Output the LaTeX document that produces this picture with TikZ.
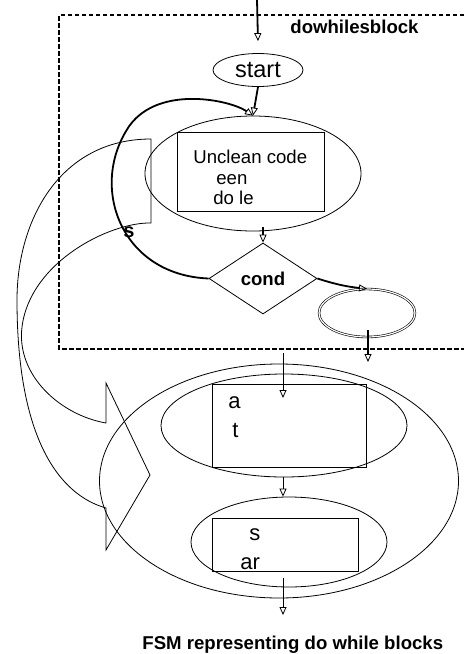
\documentclass[tikz,border=0pt]{standalone}
\usepackage{fontspec}
\setmainfont{Liberation Sans}
\usetikzlibrary{shapes, arrows.meta, positioning}

\newcommand{\bigtxt}{\fontsize{22}{24}\selectfont}
\newcommand{\midtxt}{\fontsize{18.6}{20}\selectfont}

\begin{document}
\begin{tikzpicture}[x=1pt, y=-1pt, line width=0.8pt,
  >={Triangle[open, line width=0.8pt, width=7pt, length=8pt]},
  flow/.style = {->, line width=1.8pt},
  link/.style = {->, line width=0.8pt},
  frame/.style = {line width=1.5pt, dash pattern=on 4.5pt off 2.5pt},
  state/.style = {ellipse, draw, inner sep=0pt},
  box/.style = {rectangle, draw, inner sep=0pt},
  txt/.style = {anchor=base west, inner sep=0pt}]
      \useasboundingbox (0,0) rectangle (464,654);

      % the do-while block
      \draw[frame] (464,15) -| (59,349) -- (464,349);
      \node[txt, font=\midtxt\bfseries] (blockname) at (290,33) {dowhilesblock};

      \node[state, minimum width=90pt, minimum height=33pt,
        font=\fontsize{23.5}{25}\selectfont] (start) at (258,70) {start};

      \node[state, minimum width=216pt, minimum height=115pt] (body) at (253,173.5) {};
      \node[box, minimum width=147pt, minimum height=79pt] (bodybox) at (250.5,171.5) {};
      \node[txt, font=\midtxt] (code1) at (193,163) {Unclean code};
      \node[txt, font=\midtxt] (code2) at (216,184) {een};
      \node[txt, font=\midtxt] (code3) at (213,204) {do le};

      \node[diamond, draw, inner sep=0pt, minimum width=108pt, minimum height=71pt,
        font=\midtxt\bfseries] (cond) at (263,278.5) {cond};

      \node[state, double, line width=0.6pt, double distance=1.2pt,
        minimum width=96pt, minimum height=48pt] (final) at (367,313) {};

      \coordinate (entry) at (257,0);
      \coordinate (exit) at (368,362);

      \draw[flow] (entry) -- ([yshift=12pt]start.north);
      \draw[flow] (start.south) -- (body.north);
      \draw[flow, shorten <=-4pt] (cond.north |- body.south) -- (cond.north);
      \draw[flow] (cond.east) to[bend right=6] (final.north);
      \draw[flow, shorten <=-7pt] (final.south -| exit) -- (exit);

      % loop back
      \draw[flow] (cond.west) .. controls (120,275) and (88,185) .. (130,125)
        .. controls (160,85) and (230,100) .. (body.north);
      \node[font=\fontsize{20}{22}\selectfont\bfseries] (loopname) at (129,232) {s};

      % curved block arrow
      \draw (151,139) -- (151,223)
        .. controls (110,222) and (30,262) .. (22,327)
        .. controls (16,375) and (60,415) .. (106,423)
        -- (106,383) -- (150,475) -- (106,550) -- (106,508)
        .. controls (60,495) and (17,440) .. (17,300)
        .. controls (17,220) and (60,139) .. (151,139) -- cycle;

      % the FSM
      \node[state, minimum width=359pt, minimum height=234pt] (fsm) at (279,481) {};
      \node[state, minimum width=246pt, minimum height=103pt] (inner1) at (284,425.5) {};
      \node[box, minimum width=154pt, minimum height=83pt] (box1) at (289,425.5) {};
      \node[txt, font=\bigtxt] (lab1) at (228,408) {a};
      \node[txt, font=\bigtxt] (lab2) at (232,437) {t};

      \node[state, minimum width=196pt, minimum height=90pt] (inner2) at (289,542) {};
      \node[box, minimum width=146pt, minimum height=53pt] (box2) at (285,544.5) {};
      \node[txt, font=\bigtxt] (lab3) at (249,540) {s};
      \node[txt, font=\bigtxt] (lab4) at (240,569) {ar};

      \coordinate (entry2) at (283,353);
      \coordinate (entrytip) at (283,398);
      \coordinate (exit2) at (283,615);

      \draw[link] (entry2) -- (entrytip);
      \draw[link] (inner1.south -| entry2) -- (inner2.north -| entry2);
      \draw[link, shorten <=-9pt] (inner2.south -| exit2) -- (exit2);

      \node[txt, font=\midtxt\bfseries] (caption) at (142,649)
        {FSM representing do while blocks};
    \end{tikzpicture}
\end{document}
